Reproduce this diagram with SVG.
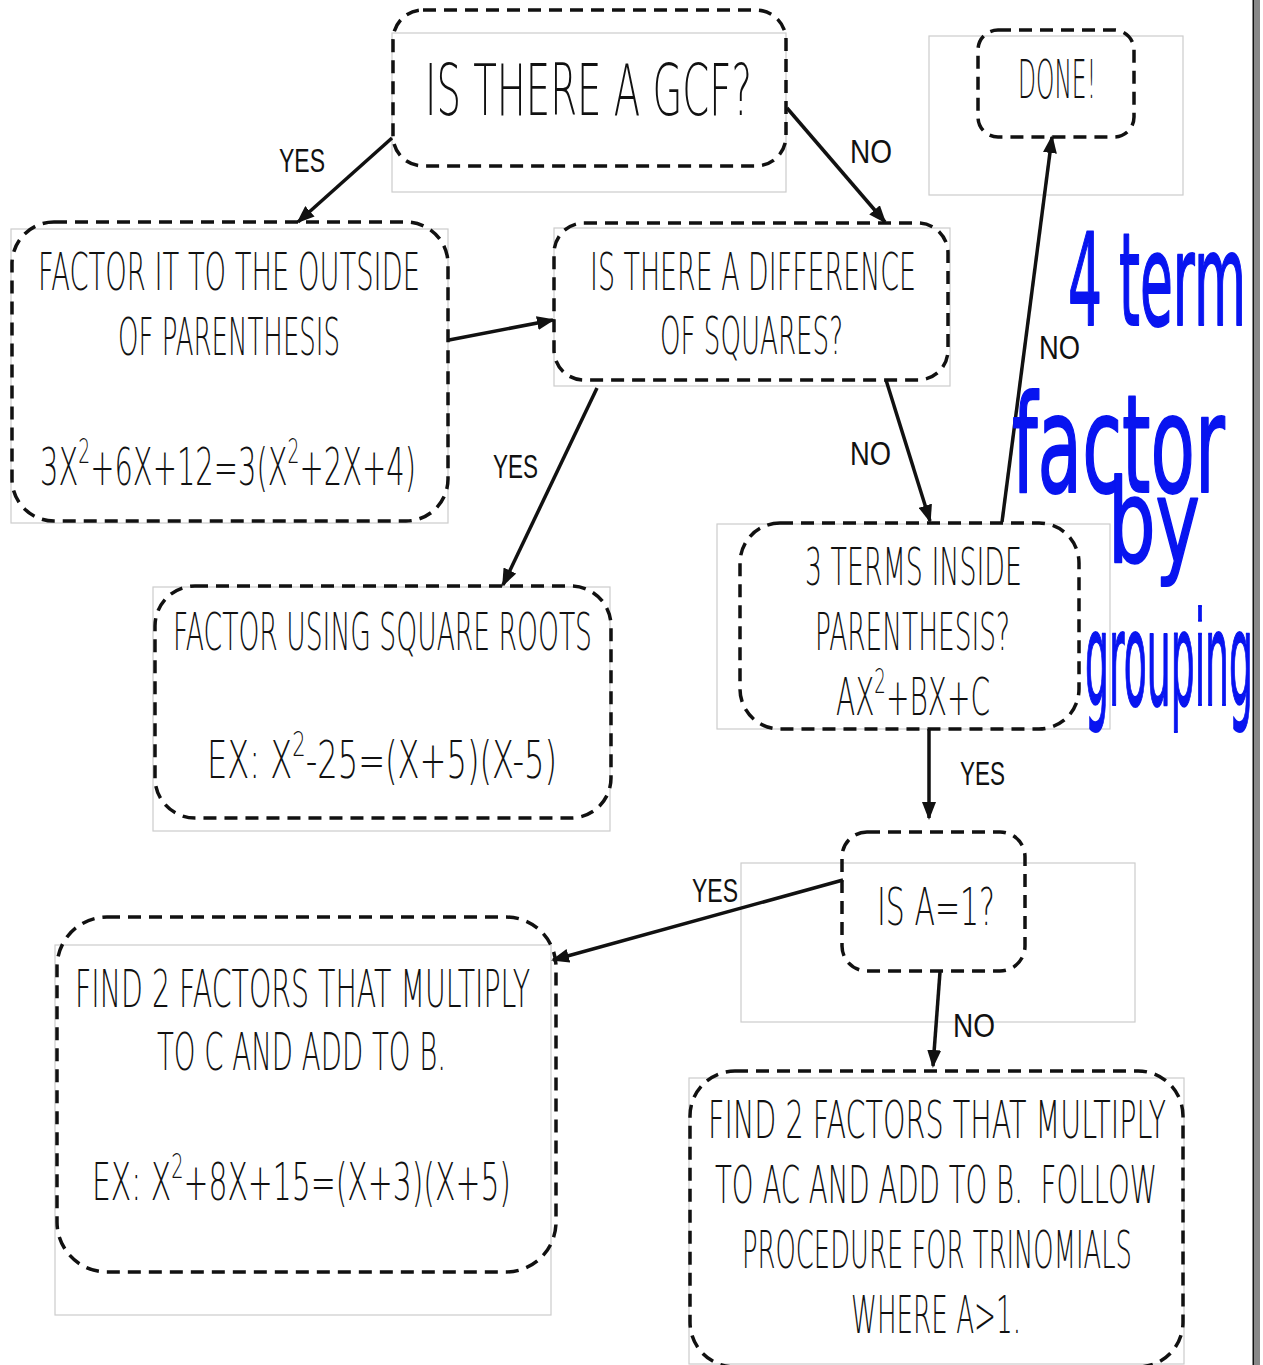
<svg xmlns="http://www.w3.org/2000/svg" width="1263" height="1365" viewBox="0 0 1263 1365">
<style>
.frame{fill:none;stroke:#cccccc;stroke-width:1.2}
.dash{fill:none;stroke:#111;stroke-width:3.5;stroke-dasharray:13 8}
.t{font-family:'DejaVu Sans',sans-serif;font-weight:200;fill:#111}
.lbl{font-family:'Liberation Sans',Arial,sans-serif;font-size:33px;fill:#111}
.hand{font-family:'DejaVu Sans',sans-serif;fill:#0814f0;stroke:#0814f0;stroke-width:2;stroke-linejoin:round}
.con{fill:none;stroke:#111;stroke-width:3.5}
</style>
<defs>
<marker id="ah" markerUnits="userSpaceOnUse" markerWidth="18" markerHeight="14" viewBox="0 0 18 14" refX="16" refY="7" orient="auto">
<path d="M0,0 L18,7 L0,14 z" fill="#111"/>
</marker>
</defs>
<rect width="1263" height="1365" fill="#fff"/>

<g id="node-gcf">
<rect class="frame" x="392" y="33" width="394" height="159"/>
<rect class="dash" x="393" y="10" width="393" height="156" rx="30"/>
<text class="t" x="425" y="115" font-size="71" textLength="327" lengthAdjust="spacingAndGlyphs">IS THERE A GCF?</text>
</g>

<g id="node-done">
<rect class="frame" x="929" y="36" width="254" height="159"/>
<rect class="dash" x="978" y="30" width="156" height="107" rx="20"/>
<text class="t" x="1018" y="98" font-size="54" textLength="78" lengthAdjust="spacingAndGlyphs">DONE!</text>
</g>

<g id="node-factor-out">
<rect class="frame" x="11" y="229" width="437" height="294"/>
<rect class="dash" x="12" y="222" width="436" height="299" rx="42"/>
<text class="t" x="38" y="290" font-size="51" textLength="382" lengthAdjust="spacingAndGlyphs">FACTOR IT TO THE OUTSIDE</text>
<text class="t" x="118" y="355" font-size="51" textLength="222" lengthAdjust="spacingAndGlyphs">OF PARENTHESIS</text>
<text class="t" x="40" y="485" font-size="51" textLength="376" lengthAdjust="spacingAndGlyphs">3X<tspan font-size="33" dy="-22">2</tspan><tspan dy="22">+6X+12=3(X</tspan><tspan font-size="33" dy="-22">2</tspan><tspan dy="22">+2X+4)</tspan></text>
</g>

<g id="node-diff">
<rect class="frame" x="554" y="228" width="396" height="158"/>
<rect class="dash" x="554" y="223" width="394" height="157" rx="30"/>
<text class="t" x="590" y="290" font-size="51" textLength="326" lengthAdjust="spacingAndGlyphs">IS THERE A DIFFERENCE</text>
<text class="t" x="660" y="354" font-size="51" textLength="183" lengthAdjust="spacingAndGlyphs">OF SQUARES?</text>
</g>

<g id="node-sqrt">
<rect class="frame" x="153" y="587" width="457" height="244"/>
<rect class="dash" x="155" y="586" width="456" height="232" rx="40"/>
<text class="t" x="173" y="650" font-size="52" textLength="419" lengthAdjust="spacingAndGlyphs">FACTOR USING SQUARE ROOTS</text>
<text class="t" x="207" y="778" font-size="52" textLength="350" lengthAdjust="spacingAndGlyphs">EX: X<tspan font-size="34" dy="-22">2</tspan><tspan dy="22">-25=(X+5)(X-5)</tspan></text>
</g>

<g id="node-three">
<rect class="frame" x="717" y="524" width="393" height="205"/>
<rect class="dash" x="740" y="523" width="339" height="206" rx="40"/>
<text class="t" x="805" y="585" font-size="51" textLength="217" lengthAdjust="spacingAndGlyphs">3 TERMS INSIDE</text>
<text class="t" x="815" y="650" font-size="51" textLength="195" lengthAdjust="spacingAndGlyphs">PARENTHESIS?</text>
<text class="t" x="836" y="715" font-size="51" textLength="154" lengthAdjust="spacingAndGlyphs">AX<tspan font-size="33" dy="-22">2</tspan><tspan dy="22">+BX+C</tspan></text>
</g>

<g id="node-a1">
<rect class="frame" x="741" y="863" width="394" height="159"/>
<rect class="dash" x="842" y="832" width="183" height="139" rx="25"/>
<text class="t" x="877" y="925" font-size="52" textLength="118" lengthAdjust="spacingAndGlyphs">IS A=1?</text>
</g>

<g id="node-find-c">
<rect class="frame" x="55" y="945" width="496" height="370"/>
<rect class="dash" x="57" y="917" width="499" height="355" rx="50"/>
<text class="t" x="75" y="1007" font-size="51" textLength="455" lengthAdjust="spacingAndGlyphs">FIND 2 FACTORS THAT MULTIPLY</text>
<text class="t" x="157" y="1070" font-size="51" textLength="289" lengthAdjust="spacingAndGlyphs">TO C AND ADD TO B.</text>
<text class="t" x="92" y="1200" font-size="51" textLength="419" lengthAdjust="spacingAndGlyphs">EX: X<tspan font-size="33" dy="-22">2</tspan><tspan dy="22">+8X+15=(X+3)(X+5)</tspan></text>
</g>

<g id="node-find-ac">
<rect class="frame" x="689" y="1078" width="495" height="286"/>
<rect class="dash" x="690" y="1071" width="493" height="296" rx="45"/>
<text class="t" x="708" y="1138" font-size="52" textLength="458" lengthAdjust="spacingAndGlyphs">FIND 2 FACTORS THAT MULTIPLY</text>
<text class="t" x="715" y="1203" font-size="52" textLength="442" lengthAdjust="spacingAndGlyphs" xml:space="preserve">TO AC AND ADD TO B.  FOLLOW</text>
<text class="t" x="742" y="1268" font-size="52" textLength="390" lengthAdjust="spacingAndGlyphs">PROCEDURE FOR TRINOMIALS</text>
<text class="t" x="851" y="1333" font-size="52" textLength="170" lengthAdjust="spacingAndGlyphs">WHERE A&gt;1.</text>
</g>

<g id="connectors">
<line class="con" x1="392" y1="138" x2="298" y2="222" marker-end="url(#ah)"/>
<line class="con" x1="787" y1="108" x2="885" y2="222" marker-end="url(#ah)"/>
<line class="con" x1="449" y1="340" x2="553" y2="320" marker-end="url(#ah)"/>
<line class="con" x1="597" y1="388" x2="503" y2="585" marker-end="url(#ah)"/>
<line class="con" x1="886" y1="380" x2="930" y2="521" marker-end="url(#ah)"/>
<line class="con" x1="1002" y1="522" x2="1052" y2="137" marker-end="url(#ah)"/>
<line class="con" x1="929" y1="729" x2="929" y2="818" marker-end="url(#ah)"/>
<line class="con" x1="843" y1="880" x2="553" y2="960" marker-end="url(#ah)"/>
<line class="con" x1="940" y1="972" x2="933" y2="1066" marker-end="url(#ah)"/>
<text class="lbl" x="279" y="172" textLength="46" lengthAdjust="spacingAndGlyphs">YES</text>
<text class="lbl" x="850" y="163" textLength="42" lengthAdjust="spacingAndGlyphs">NO</text>
<text class="lbl" x="493" y="478" textLength="45" lengthAdjust="spacingAndGlyphs">YES</text>
<text class="lbl" x="850" y="465" textLength="41" lengthAdjust="spacingAndGlyphs">NO</text>
<text class="lbl" x="1039" y="359" textLength="41" lengthAdjust="spacingAndGlyphs">NO</text>
<text class="lbl" x="960" y="785" textLength="45" lengthAdjust="spacingAndGlyphs">YES</text>
<text class="lbl" x="692" y="902" textLength="46" lengthAdjust="spacingAndGlyphs">YES</text>
<text class="lbl" x="953" y="1037" textLength="42" lengthAdjust="spacingAndGlyphs">NO</text>
</g>

<g id="handwriting">
<text class="hand" x="1068" y="325" font-size="128" textLength="178" lengthAdjust="spacingAndGlyphs">4 term</text>
<text class="hand" x="1012" y="492" font-size="135" textLength="213" lengthAdjust="spacingAndGlyphs">factor</text>
<text class="hand" x="1108" y="562" font-size="115" textLength="92" lengthAdjust="spacingAndGlyphs">by</text>
<text class="hand" x="1085" y="705" font-size="130" textLength="168" lengthAdjust="spacingAndGlyphs">grouping</text>
</g>

<rect x="1252.5" y="0" width="1.5" height="1365" fill="#111"/>
<rect x="1254" y="0" width="6" height="1365" fill="#888"/>
<rect x="1260" y="0" width="3" height="1365" fill="#fff"/>
</svg>
